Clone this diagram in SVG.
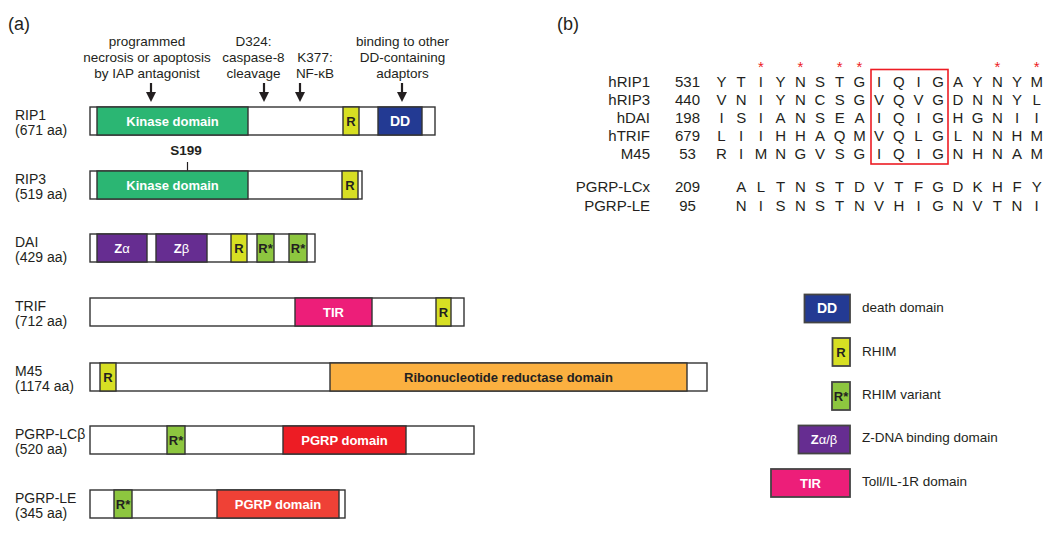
<svg xmlns="http://www.w3.org/2000/svg" width="1050" height="544" viewBox="0 0 1050 544">
<style>
text{font-family:"Liberation Sans",Arial,sans-serif;fill:#231f20}
.lbl{font-size:14px}
.ann{font-size:13.5px;text-anchor:middle}
.bar{fill:#fff;stroke:#333;stroke-width:1.4}
.dom{stroke:#333;stroke-width:1.4}
.dt{font-size:13px;font-weight:bold;text-anchor:middle}
.w{fill:#fff}
.kin{fill:#2bb673}.dd{fill:#233a93}.r{fill:#d7df23}.rs{fill:#8dc63f}.z{fill:#662d91}.tir{fill:#ed1e79}.rr{fill:#fbb040}.pg1{fill:#ed1c24}.pg2{fill:#ef4136}
.leg{stroke:#444;stroke-width:1.8}
.al{font-size:15px;text-anchor:middle}
.nm{font-size:15px;text-anchor:end}
.star{font-size:15px;fill:#ed1c24;text-anchor:middle}
</style>
<defs>
<marker id="ah" markerWidth="10" markerHeight="10" refX="5" refY="5" orient="auto" markerUnits="userSpaceOnUse">
<path d="M0,0 L10,5 L0,10 z" fill="#231f20"/>
</marker>
</defs>

<text x="8" y="30" style="font-size:18px">(a)</text>
<text x="557" y="30" style="font-size:18px">(b)</text>

<g id="annotations">
<text class="ann" x="147" y="46">programmed</text>
<text class="ann" x="147" y="62">necrosis or apoptosis</text>
<text class="ann" x="147" y="78">by IAP antagonist</text>
<text class="ann" x="253.5" y="46">D324:</text>
<text class="ann" x="253.5" y="62">caspase-8</text>
<text class="ann" x="253.5" y="78">cleavage</text>
<text class="ann" x="315" y="62">K377:</text>
<text class="ann" x="315" y="78">NF-κB</text>
<text class="ann" x="402.5" y="46">binding to other</text>
<text class="ann" x="402.5" y="62">DD-containing</text>
<text class="ann" x="402.5" y="78">adaptors</text>
</g>

<g id="connectors" stroke="#231f20" stroke-width="2.2" marker-end="url(#ah)">
<line x1="151" y1="83" x2="151" y2="97"/>
<line x1="264" y1="83" x2="264" y2="97"/>
<line x1="300" y1="83" x2="300" y2="97"/>
<line x1="402" y1="83" x2="402" y2="97"/>
</g>

<g id="RIP1">
<text class="lbl" x="15" y="120">RIP1</text>
<text class="lbl" x="15" y="135">(671 aa)</text>
<rect class="bar" x="90" y="107" width="345" height="28"/>
<rect class="dom kin" x="97" y="107" width="151" height="28"/>
<text class="dt w" x="172.5" y="125.5">Kinase domain</text>
<rect class="dom r" x="343" y="107" width="16" height="28"/>
<text class="dt" x="351" y="125.5">R</text>
<rect class="dom dd" x="378" y="107" width="44" height="28"/>
<text class="dt w" x="400" y="126" style="font-size:14px">DD</text>
</g>

<g id="RIP3">
<text class="lbl" x="15" y="184">RIP3</text>
<text class="lbl" x="15" y="199">(519 aa)</text>
<text x="186" y="155" style="font-size:13.5px;font-weight:bold;text-anchor:middle">S199</text>
<line x1="187.5" y1="162" x2="187.5" y2="171" stroke="#231f20" stroke-width="1.2"/>
<rect class="bar" x="90" y="171" width="272" height="28"/>
<rect class="dom kin" x="97" y="171" width="151" height="28"/>
<text class="dt w" x="172.5" y="189.5">Kinase domain</text>
<rect class="dom r" x="342" y="171" width="16" height="28"/>
<text class="dt" x="350" y="189.5">R</text>
</g>

<g id="DAI">
<text class="lbl" x="15" y="247">DAI</text>
<text class="lbl" x="15" y="262">(429 aa)</text>
<rect class="bar" x="90" y="234" width="225" height="28"/>
<rect class="dom z" x="97" y="234" width="50" height="28"/>
<text class="dt w" x="122" y="252.5">Z<tspan style="font-weight:normal">α</tspan></text>
<rect class="dom z" x="156" y="234" width="51" height="28"/>
<text class="dt w" x="181.5" y="252.5">Z<tspan style="font-weight:normal">β</tspan></text>
<rect class="dom r" x="231" y="234" width="16" height="28"/>
<text class="dt" x="239" y="252.5">R</text>
<rect class="dom rs" x="257" y="234" width="17" height="28"/>
<text class="dt" x="265.5" y="252.5">R*</text>
<rect class="dom rs" x="289" y="234" width="18" height="28"/>
<text class="dt" x="298" y="252.5">R*</text>
</g>

<g id="TRIF">
<text class="lbl" x="15" y="311">TRIF</text>
<text class="lbl" x="15" y="326">(712 aa)</text>
<rect class="bar" x="90" y="298" width="374" height="28"/>
<rect class="dom tir" x="295" y="298" width="77" height="28"/>
<text class="dt w" x="333.5" y="316.5">TIR</text>
<rect class="dom r" x="436" y="298" width="15" height="28"/>
<text class="dt" x="443.5" y="316.5">R</text>
</g>

<g id="M45">
<text class="lbl" x="15" y="376">M45</text>
<text class="lbl" x="15" y="391">(1174 aa)</text>
<rect class="bar" x="90" y="363" width="617" height="28"/>
<rect class="dom r" x="100" y="363" width="16" height="28"/>
<text class="dt" x="108" y="381.5">R</text>
<rect class="dom rr" x="330" y="363" width="357" height="28"/>
<text class="dt" x="508.5" y="381.5">Ribonucleotide reductase domain</text>
</g>

<g id="PGRP-LCb">
<text class="lbl" x="15" y="439">PGRP-LCβ</text>
<text class="lbl" x="15" y="454">(520 aa)</text>
<rect class="bar" x="90" y="426" width="384" height="28"/>
<rect class="dom rs" x="167" y="426" width="18" height="28"/>
<text class="dt" x="176" y="444.5">R*</text>
<rect class="dom pg1" x="283" y="426" width="123" height="28"/>
<text class="dt w" x="344.5" y="444.5">PGRP domain</text>
</g>

<g id="PGRP-LE">
<text class="lbl" x="15" y="503">PGRP-LE</text>
<text class="lbl" x="15" y="518">(345 aa)</text>
<rect class="bar" x="90" y="490" width="255" height="28"/>
<rect class="dom rs" x="114" y="490" width="18" height="28"/>
<text class="dt" x="123" y="508.5">R*</text>
<rect class="dom pg2" x="217" y="490" width="122" height="28"/>
<text class="dt w" x="278" y="508.5">PGRP domain</text>
</g>

<g id="alignment">
<text class="star" x="760.9 800.3 839.7 859.4 997.3 1036.7" y="72">******</text>
<text class="nm" x="650" y="87">hRIP1</text>
<text class="nm" x="650" y="105">hRIP3</text>
<text class="nm" x="650" y="123">hDAI</text>
<text class="nm" x="650" y="141">hTRIF</text>
<text class="nm" x="650" y="159">M45</text>
<text class="nm" x="650" y="192">PGRP-LCx</text>
<text class="nm" x="650" y="211">PGRP-LE</text>
<text class="al" x="687.5" y="87">531</text>
<text class="al" x="687.5" y="105">440</text>
<text class="al" x="687.5" y="123">198</text>
<text class="al" x="687.5" y="141">679</text>
<text class="al" x="687.5" y="159">53</text>
<text class="al" x="687.5" y="192">209</text>
<text class="al" x="687.5" y="211">95</text>
<text class="al" x="721.5 741.2 760.9 780.6 800.3 820 839.7 859.4 879.1 898.8 918.5 938.2 957.9 977.6 997.3 1017 1036.7" y="87">YTIYNSTGIQIGAYNYM</text>
<text class="al" x="721.5 741.2 760.9 780.6 800.3 820 839.7 859.4 879.1 898.8 918.5 938.2 957.9 977.6 997.3 1017 1036.7" y="105">VNIYNCSGVQVGDNNYL</text>
<text class="al" x="721.5 741.2 760.9 780.6 800.3 820 839.7 859.4 879.1 898.8 918.5 938.2 957.9 977.6 997.3 1017 1036.7" y="123">ISIANSEAIQIGHGNII</text>
<text class="al" x="721.5 741.2 760.9 780.6 800.3 820 839.7 859.4 879.1 898.8 918.5 938.2 957.9 977.6 997.3 1017 1036.7" y="141">LIIHHAQMVQLGLNNHM</text>
<text class="al" x="721.5 741.2 760.9 780.6 800.3 820 839.7 859.4 879.1 898.8 918.5 938.2 957.9 977.6 997.3 1017 1036.7" y="159">RIMNGVSGIQIGNHNAM</text>
<text class="al" x="741.2 760.9 780.6 800.3 820 839.7 859.4 879.1 898.8 918.5 938.2 957.9 977.6 997.3 1017 1036.7" y="192">ALTNSTDVTFGDKHFY</text>
<text class="al" x="741.2 760.9 780.6 800.3 820 839.7 859.4 879.1 898.8 918.5 938.2 957.9 977.6 997.3 1017 1036.7" y="211">NISNSTNVHIGNVTNI</text>
<rect x="871" y="69.5" width="77" height="94.5" fill="none" stroke="#ed1c24" stroke-width="1.6"/>
</g>

<g id="legend">
<rect class="leg dd" x="804.5" y="294.5" width="45.5" height="28"/>
<text class="dt w" x="827" y="313" style="font-size:14px">DD</text>
<text class="lbl" x="862" y="311.5" style="font-size:13.5px">death domain</text>
<rect class="leg r" x="832.5" y="338" width="17.5" height="28"/>
<text class="dt" x="841" y="356.5">R</text>
<text class="lbl" x="862" y="355.5" style="font-size:13.5px">RHIM</text>
<rect class="leg rs" x="832" y="382" width="18" height="28"/>
<text class="dt" x="841" y="400.5">R*</text>
<text class="lbl" x="862" y="399" style="font-size:13.5px">RHIM variant</text>
<rect class="leg z" x="798.5" y="425.5" width="51.5" height="28"/>
<text class="dt w" x="824" y="444">Z<tspan style="font-weight:normal">α/β</tspan></text>
<text class="lbl" x="862" y="441.5" style="font-size:13.5px">Z-DNA binding domain</text>
<rect class="leg tir" x="771" y="469" width="79" height="28"/>
<text class="dt w" x="810.5" y="487.5">TIR</text>
<text class="lbl" x="862" y="486" style="font-size:13.5px">Toll/IL-1R domain</text>
</g>
</svg>
